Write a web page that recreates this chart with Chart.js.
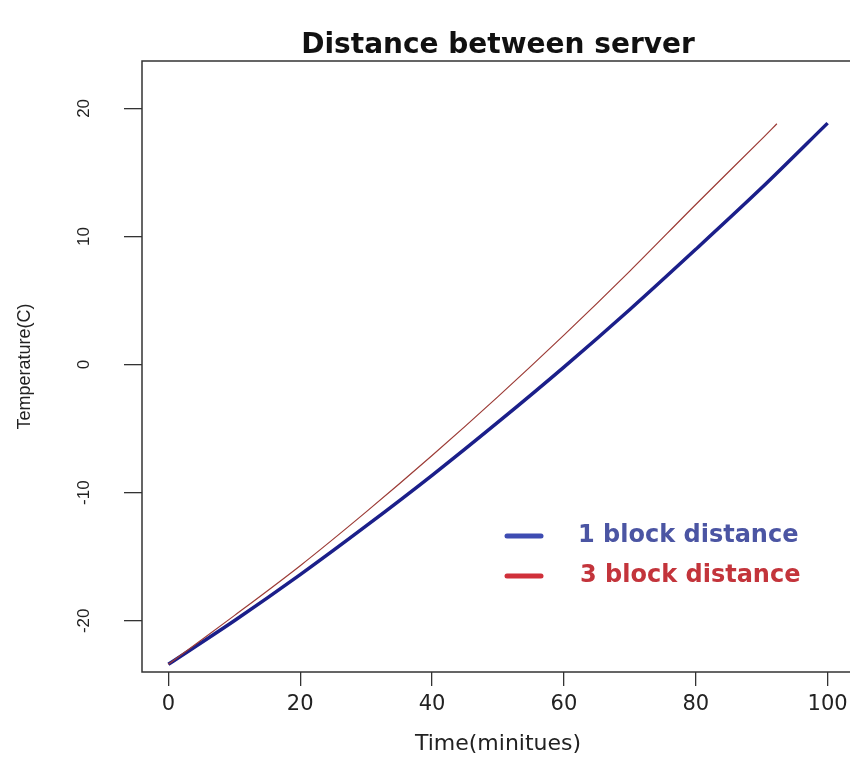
<!DOCTYPE html>
<html>
<head>
<meta charset="utf-8">
<title>Distance between server</title>
<script src="https://cdn.jsdelivr.net/npm/chart.js@4.4.1/dist/chart.umd.min.js"></script>
<style>
  html, body { margin: 0; padding: 0; overflow: hidden; background: #fff; }
  canvas { display: block; }
</style>
</head>
<body>
<canvas id="distChart" width="860" height="757"></canvas>
<script>
// ==========================
// DATA
// ==========================
const timeMinutes = [0, 10, 20, 30, 40, 50, 60, 70, 80, 90, 100];
const oneBlockTemp = [-23.4, -20.0, -16.4, -12.6, -8.65, -4.5, -0.2, 4.3, 9.0, 13.8, 18.85];
const threeBlockTime = [0, 10, 20, 30, 40, 50, 60, 70, 80, 90, 92.3];
const threeBlockTemp = [-23.4, -19.6, -15.7, -11.5, -7.1, -2.5, 2.3, 7.3, 12.5, 17.6, 18.8];
const seriesNames = ["1 block distance", "3 block distance"];
const xTicks = [0, 20, 40, 60, 80, 100];
const yTicks = [-20, -10, 0, 10, 20];

const toPoints = (xs, ys) => xs.map((x, i) => ({ x: x, y: ys[i] }));

// ==========================
// PLUGINS
// ==========================
// frame round the plot region
const boxPlugin = {
  id: "box",
  afterDatasetsDraw(chart) {
    const { ctx, chartArea: a } = chart;
    ctx.save();
    ctx.strokeStyle = "#333";
    ctx.lineWidth = 1.5;
    ctx.strokeRect(a.left, a.top, a.right - a.left, a.bottom - a.top);
    ctx.restore();
  }
};

// vertical y tick labels
const yLabelPlugin = {
  id: "yLabels",
  afterDraw(chart) {
    const ctx = chart.ctx;
    const scale = chart.scales.y;
    ctx.save();
    ctx.fillStyle = "#222";
    ctx.font = "17px 'Liberation Sans'";
    ctx.textAlign = "center";
    ctx.textBaseline = "middle";
    yTicks.forEach(v => {
      ctx.save();
      ctx.translate(84, scale.getPixelForValue(v));
      ctx.rotate(-Math.PI / 2);
      ctx.fillText(String(v), 0, 0);
      ctx.restore();
    });
    ctx.restore();
  }
};

// legend inside the plot, bottom right
const legendPlugin = {
  id: "innerLegend",
  afterDraw(chart) {
    const ctx = chart.ctx;
    const rows = [
      { y: 536, x: 578, line: "#3e4cb2", text: "#4b55a3" },
      { y: 576, x: 580, line: "#d0303a", text: "#c3343b" }
    ];
    ctx.save();
    ctx.lineCap = "round";
    ctx.lineWidth = 5;
    ctx.font = "bold 24px 'DejaVu Sans'";
    ctx.textBaseline = "middle";
    rows.forEach((r, i) => {
      ctx.strokeStyle = r.line;
      ctx.beginPath();
      ctx.moveTo(507, r.y);
      ctx.lineTo(541, r.y);
      ctx.stroke();
      ctx.fillStyle = r.text;
      ctx.fillText(chart.data.datasets[i].label, r.x, r.y);
    });
    ctx.restore();
  }
};

// ==========================
// CHART
// ==========================
const ctx = document.getElementById("distChart").getContext("2d");

new Chart(ctx, {
  type: "scatter",
  data: {
    datasets: [
      {
        label: seriesNames[0],
        data: toPoints(timeMinutes, oneBlockTemp),
        showLine: true,
        borderColor: "#1b1f8a",
        borderWidth: 3.5,
        pointRadius: 0,
        tension: 0.3,
        order: 1
      },
      {
        label: seriesNames[1],
        data: toPoints(threeBlockTime, threeBlockTemp),
        showLine: true,
        borderColor: "#9c3b36",
        borderWidth: 1.2,
        pointRadius: 0,
        tension: 0.3,
        order: 0
      }
    ]
  },
  options: {
    responsive: false,
    animation: false,
    layout: { padding: { left: 0, right: 6, top: 0, bottom: 0 } },
    plugins: {
      legend: { display: false },
      tooltip: { enabled: false },
      title: {
        display: true,
        fullSize: false,
        text: "Distance between server",
        color: "#111",
        font: { family: "DejaVu Sans", size: 28, weight: "bold", lineHeight: 1 },
        padding: { top: 32, bottom: 1 }
      }
    },
    scales: {
      x: {
        type: "linear",
        min: -4,
        max: 104,
        afterBuildTicks: s => { s.ticks = xTicks.map(v => ({ value: v })); },
        afterFit: s => { s.height = 85; },
        grid: { drawOnChartArea: false, drawTicks: true, tickLength: 14, color: "#333", lineWidth: 1.3 },
        border: { display: false },
        ticks: { color: "#222", font: { family: "DejaVu Sans", size: 21 }, padding: 6, maxRotation: 0 },
        title: {
          display: true,
          text: "Time(minitues)",
          color: "#222",
          font: { family: "DejaVu Sans", size: 22 },
          padding: 0
        }
      },
      y: {
        type: "linear",
        min: -24,
        max: 23.7,
        afterBuildTicks: s => { s.ticks = yTicks.map(v => ({ value: v })); },
        afterFit: s => { s.width = 142; },
        grid: { drawOnChartArea: false, drawTicks: true, tickLength: 18, color: "#333", lineWidth: 1.3 },
        border: { display: false },
        ticks: { display: false },
        title: {
          display: true,
          text: "Temperature(C)",
          color: "#222",
          font: { family: "Liberation Sans", size: 18 },
          padding: { top: 14, bottom: 0 }
        }
      }
    }
  },
  plugins: [boxPlugin, yLabelPlugin, legendPlugin]
});
</script>
</body>
</html>
